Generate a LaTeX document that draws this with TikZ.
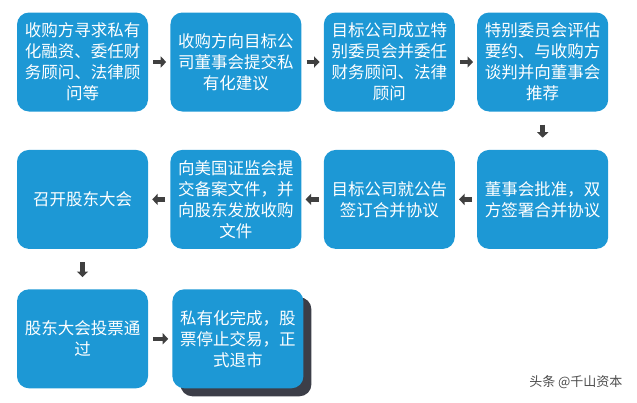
\documentclass[tikz,border=0pt]{standalone}
\usepackage{fontspec}
\newfontfamily\cjk{Noto Sans CJK SC}
\usetikzlibrary{positioning, arrows.meta, shadows}
\definecolor{stepblue}{RGB}{29,152,213}
\definecolor{arrowgray}{RGB}{64,64,64}
\definecolor{shadowgray}{RGB}{60,62,72}

\begin{document}
\begin{tikzpicture}[x=1pt, y=-1pt,
	stepbox/.style={rectangle, rounded corners=12pt, fill=stepblue, text=white,
		minimum width=131pt, minimum height=99pt, align=center,
		font=\cjk\fontsize{16.5pt}{21pt}\selectfont, inner sep=2pt},
	lastbox/.style={stepbox, drop shadow={shadow xshift=8pt, shadow yshift=-8pt,
		fill=shadowgray, opacity=1}},
	flow/.style={draw=arrowgray, line width=4.6pt, -{Triangle[length=5.5pt, width=11pt]}},
	hflow/.style={flow, shorten <=5pt, shorten >=4pt},
	vflow/.style={flow, shorten <=13pt, shorten >=12pt}]
	\useasboundingbox (0,0) rectangle (637,402);
	% first row, left to right
	\node[stepbox] (seek) at (82.5,62) {收购方寻求私有\\化融资、委任财\\务顾问、法律顾\\问等};
	\node[stepbox, right=22pt of seek] (propose) {收购方向目标公\\司董事会提交私\\有化建议};
	\node[stepbox, right=22pt of propose] (committee) {目标公司成立特\\别委员会并委任\\财务顾问、法律\\顾问};
	\node[stepbox, right=22pt of committee] (evaluate) {特别委员会评估\\要约、与收购方\\谈判并向董事会\\推荐};
	% second row, right to left
	\node[stepbox, below=38pt of evaluate] (approve) {董事会批准，双\\方签署合并协议};
	\node[stepbox, left=22pt of approve] (announce) {目标公司就公告\\签订合并协议};
	\node[stepbox, left=22pt of announce] (filing) {向美国证监会提\\交备案文件，并\\向股东发放收购\\文件};
	\node[stepbox, left=22pt of filing] (meeting) {召开股东大会};
	% third row
	\node[stepbox, below=40pt of meeting] (vote) {股东大会投票通\\过};
	\node[lastbox, right=24pt of vote] (delist) {私有化完成，股\\票停止交易，正\\式退市};
	\node[text=black!70, font=\cjk\fontsize{13pt}{15pt}\selectfont, anchor=east] (mark) at (626,382) {头条 @千山资本};

	\draw[hflow] (seek) -- (propose);
	\draw[hflow] (propose) -- (committee);
	\draw[hflow] (committee) -- (evaluate);
	\draw[vflow] (evaluate) -- (approve);
	\draw[hflow] (approve) -- (announce);
	\draw[hflow] (announce) -- (filing);
	\draw[hflow] (filing) -- (meeting);
	\draw[vflow] (meeting) -- (vote);
	\draw[hflow] (vote) -- (delist);
\end{tikzpicture}
\end{document}
